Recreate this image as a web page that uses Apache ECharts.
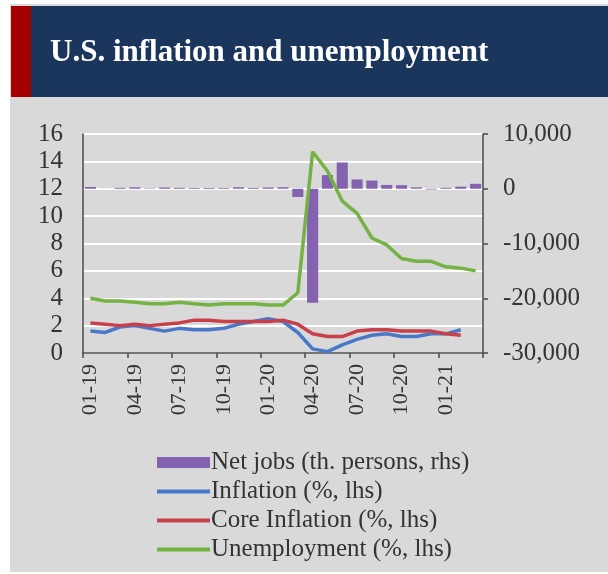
<!DOCTYPE html>
<html>
<head>
<meta charset="utf-8">
<style>
  html, body { margin: 0; padding: 0; background: #ffffff; }
  #chart { width: 608px; height: 574px; }
</style>
<script src="https://cdn.jsdelivr.net/npm/echarts@6/dist/echarts.min.js"></script>
</head>
<body>
<div id="chart"></div>
<script>
// Monthly observations, Jan 2019 – Mar 2021
const months = ['01-19','02-19','03-19','04-19','05-19','06-19','07-19','08-19','09-19','10-19','11-19','12-19',
                '01-20','02-20','03-20','04-20','05-20','06-20','07-20','08-20','09-20','10-20','11-20','12-20',
                '01-21','02-21','03-21'];

// Net jobs, thousands of persons (right axis)
const netJobs = [312, 20, 160, 263, 75, 224, 164, 130, 136, 128, 266, 145,
                 225, 273, -1500, -20800, 2500, 4800, 1700, 1500, 700, 650, 250, -140,
                 170, 380, 900];

// Headline CPI inflation, % y/y (left axis)
const inflation = [1.6, 1.5, 1.9, 2.0, 1.8, 1.6, 1.8, 1.7, 1.7, 1.8, 2.1, 2.3,
                   2.5, 2.3, 1.5, 0.3, 0.1, 0.6, 1.0, 1.3, 1.4, 1.2, 1.2, 1.4,
                   1.4, 1.7, null];

// Core CPI inflation, % y/y (left axis)
const coreInflation = [2.2, 2.1, 2.0, 2.1, 2.0, 2.1, 2.2, 2.4, 2.4, 2.3, 2.3, 2.3,
                       2.3, 2.4, 2.1, 1.4, 1.2, 1.2, 1.6, 1.7, 1.7, 1.6, 1.6, 1.6,
                       1.4, 1.3, null];

// Unemployment rate, % (left axis)
const unemployment = [4.0, 3.8, 3.8, 3.7, 3.6, 3.6, 3.7, 3.6, 3.5, 3.6, 3.6, 3.6,
                      3.5, 3.5, 4.4, 14.7, 13.3, 11.1, 10.2, 8.4, 7.9, 6.9, 6.7, 6.7,
                      6.3, 6.2, 6.0];

const titleText = 'U.S. inflation and unemployment';
const seriesNames = ['Net jobs (th. persons, rhs)', 'Inflation (%, lhs)', 'Core Inflation (%, lhs)', 'Unemployment (%, lhs)'];

const serif = '"Liberation Serif", "DejaVu Serif", serif';
const axisColor = '#4a4a4a';
const textColor = '#333333';
const colors = { jobs: '#8462b0', infl: '#4a78c8', core: '#c8404a', unemp: '#74b244' };

// thin horizontal stroke used as the legend key for line series
// (outer move-to points keep the bounding box at full icon height)
const lineKey = 'path://M0,0 M0,3.5 L53,3.5 L53,7.5 L0,7.5 Z M53,11';

const chart = echarts.init(document.getElementById('chart'), null, { renderer: 'canvas' });

chart.setOption({
  backgroundColor: '#ffffff',
  animation: false,
  graphic: [
    // panel background
    { type: 'rect', z: -10, shape: { x: 10, y: 4, width: 598, height: 568 }, style: { fill: '#d9d9d9' } },
    // header band
    { type: 'rect', z: -9, shape: { x: 31, y: 6, width: 577, height: 91 }, style: { fill: '#1b365d' } },
    { type: 'rect', z: -9, shape: { x: 11, y: 6, width: 20, height: 91 }, style: { fill: '#a50000' } }
  ],
  title: {
    text: titleText,
    left: 45,
    top: 32,
    textStyle: { color: '#ffffff', fontFamily: serif, fontWeight: 'bold', fontSize: 31 }
  },
  legend: {
    orient: 'vertical',
    left: 152,
    top: 445,
    itemWidth: 53,
    itemHeight: 11,
    itemGap: 4,
    textStyle: { color: textColor, fontFamily: serif, fontSize: 25, padding: [0, 0, 0, -4] },
    data: [
      { name: seriesNames[0], icon: 'rect' },
      { name: seriesNames[1], icon: lineKey },
      { name: seriesNames[2], icon: lineKey },
      { name: seriesNames[3], icon: lineKey }
    ]
  },
  grid: { left: 83, right: 125, top: 134, bottom: 221, containLabel: false },
  xAxis: {
    type: 'category',
    data: months,
    boundaryGap: true,
    axisLine: { lineStyle: { color: axisColor, width: 1.5 } },
    axisTick: { show: true, interval: 2, length: 5, lineStyle: { color: axisColor, width: 1.5 } },
    axisLabel: {
      interval: 2,
      rotate: 90,
      margin: 11,
      color: textColor,
      fontFamily: serif,
      fontSize: 22
    }
  },
  yAxis: [
    {
      type: 'value',
      min: 0, max: 16, interval: 2,
      axisLine: { show: true, lineStyle: { color: axisColor, width: 1.5 } },
      axisTick: { show: false },
      axisLabel: { color: textColor, fontFamily: serif, fontSize: 25, margin: 20 },
      splitLine: { show: true, lineStyle: { color: '#ffffff', width: 2 } }
    },
    {
      type: 'value',
      min: -30000, max: 10000, interval: 10000,
      position: 'right',
      axisLine: { show: true, lineStyle: { color: axisColor, width: 1.5 } },
      axisTick: { show: true, inside: false, length: 5, lineStyle: { color: axisColor, width: 1.5 } },
      axisLabel: {
        color: textColor, fontFamily: serif, fontSize: 25, margin: 20,
        formatter: v => v.toLocaleString('en-US')
      },
      splitLine: { show: false }
    }
  ],
  series: [
    {
      name: seriesNames[0],
      type: 'bar',
      yAxisIndex: 1,
      data: netJobs,
      barCategoryGap: '25%',
      itemStyle: { color: colors.jobs },
      z: 2
    },
    {
      name: seriesNames[1],
      type: 'line',
      data: inflation,
      symbol: 'none',
      lineStyle: { color: colors.infl, width: 3.5 },
      itemStyle: { color: colors.infl },
      z: 3
    },
    {
      name: seriesNames[2],
      type: 'line',
      data: coreInflation,
      symbol: 'none',
      lineStyle: { color: colors.core, width: 3.5 },
      itemStyle: { color: colors.core },
      z: 4
    },
    {
      name: seriesNames[3],
      type: 'line',
      data: unemployment,
      symbol: 'none',
      lineStyle: { color: colors.unemp, width: 3.5 },
      itemStyle: { color: colors.unemp },
      z: 5
    }
  ]
});
</script>
</body>
</html>
